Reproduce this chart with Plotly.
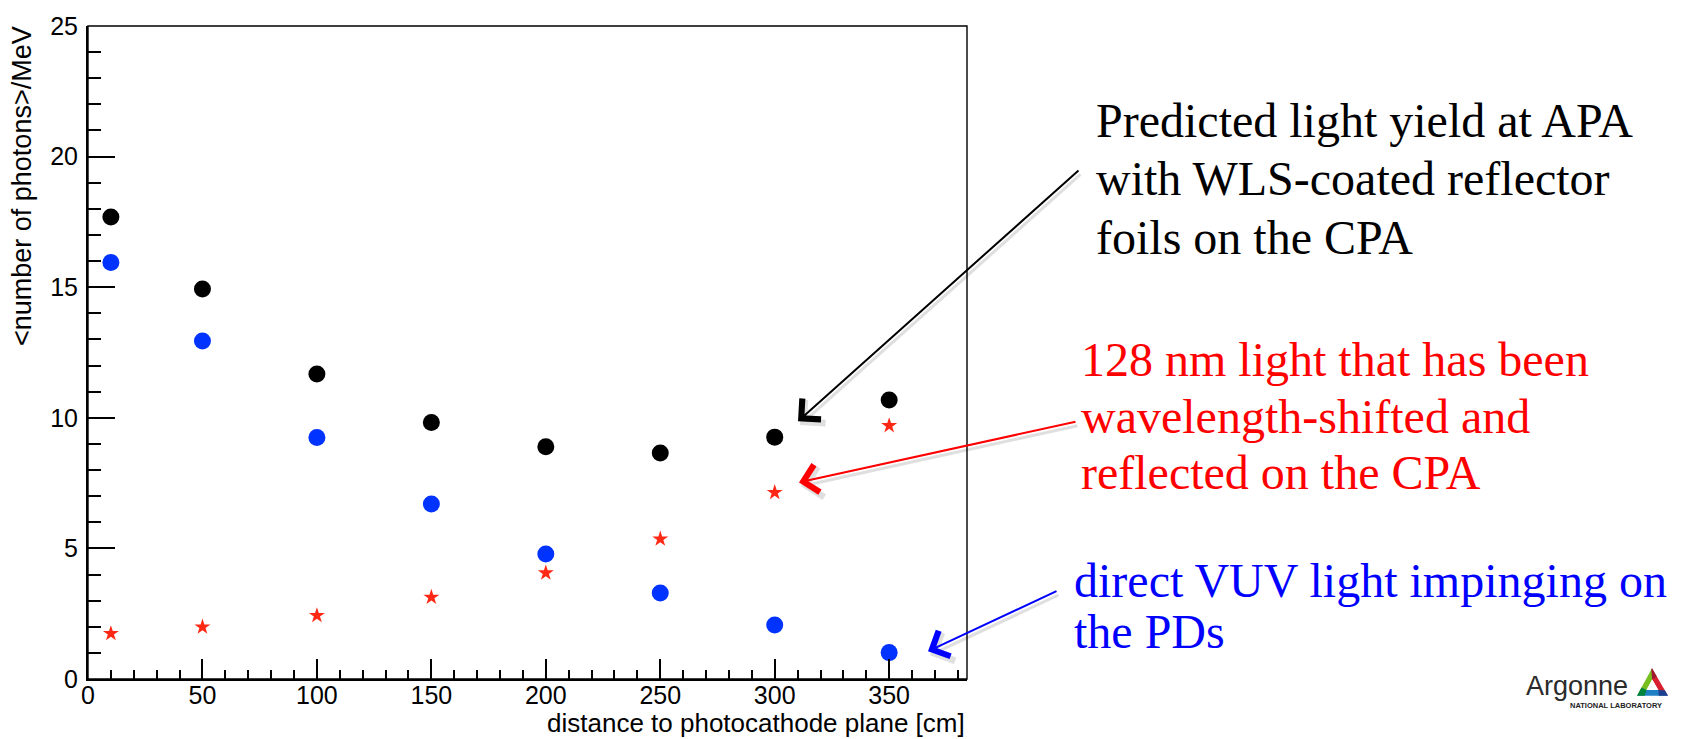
import plotly.graph_objects as go

# Light yield per MeV versus distance from the photocathode plane
distance_cm = [10, 50, 100, 150, 200, 250, 300, 350]
total_yield = [17.69, 14.93, 11.68, 9.82, 8.89, 8.65, 9.26, 10.68]
direct_vuv = [15.95, 12.94, 9.25, 6.70, 4.79, 3.29, 2.07, 1.01]
reflected_wls = [1.74, 1.99, 2.43, 3.13, 4.06, 5.36, 7.14, 9.70]

x_ticks = [0, 50, 100, 150, 200, 250, 300, 350]
y_ticks = [0, 5, 10, 15, 20, 25]

W, H = 1683, 739
L, R, T, B = 88, 967, 18, 679  # plot frame in pixels


def px(x):
    return (x - L) / (R - L)


def py(y):
    return (B - y) / (B - T)


SANS = "Liberation Sans, Arial, Helvetica, sans-serif"
SERIF = "Liberation Serif, Times New Roman, serif"
BLUE = "#0033ff"
RED = "#ff2814"

fig = go.Figure()
fig.add_trace(go.Scatter(x=distance_cm, y=total_yield, mode="markers",
                         marker=dict(symbol="circle", size=17, color="black"),
                         showlegend=False))
fig.add_trace(go.Scatter(x=distance_cm, y=direct_vuv, mode="markers",
                         marker=dict(symbol="circle", size=17, color=BLUE),
                         showlegend=False))
fig.add_trace(go.Scatter(x=distance_cm, y=reflected_wls, mode="markers",
                         marker=dict(symbol="star", size=12, color=RED, line=dict(width=0)),
                         showlegend=False))

annotations = []

# explanatory text blocks (one annotation per line)
text_blocks = [
    ("black", 1095, [(130, "Predicted light yield at APA"),
                     (189, "with WLS-coated reflector"),
                     (248, "foils on the CPA")]),
    ("#ff0000", 1080, [(372, "128 nm light that has been"),
                       (429, "wavelength-shifted and"),
                       (486, "reflected on the CPA")]),
    ("#0000ff", 1073, [(595, "direct VUV light impinging on"),
                       (647, "the PDs")]),
]
FS = 48
for color, x0, lines in text_blocks:
    for base, txt in lines:
        annotations.append(dict(
            xref="paper", yref="paper", x=px(x0), y=py(base - 0.3375 * FS),
            xanchor="left", yanchor="middle", text=txt, showarrow=False,
            borderpad=0, font=dict(family=SERIF, size=FS, color=color)))

# arrows from the text blocks to the points (head, tail in pixels)
arrows = [
    ("black", (798, 418), (1080, 166)),
    ("#ff0000", (799, 480), (1077, 419)),
    ("#0000ff", (928, 651), (1058, 590)),
]
for color, head, tail in arrows:
    # soft drop shadow
    annotations.append(dict(
        xref="paper", yref="paper", x=px(head[0] + 2), y=py(head[1] + 4),
        axref="pixel", ayref="pixel", ax=tail[0] - head[0], ay=tail[1] - head[1],
        showarrow=True, arrowhead=4, arrowsize=2.0, arrowwidth=3,
        arrowcolor="rgba(0,0,0,0.12)", text=""))
    annotations.append(dict(
        xref="paper", yref="paper", x=px(head[0]), y=py(head[1]),
        axref="pixel", ayref="pixel", ax=tail[0] - head[0], ay=tail[1] - head[1],
        showarrow=True, arrowhead=4, arrowsize=2.7, arrowwidth=2,
        arrowcolor=color, text=""))

# axis titles
annotations.append(dict(
    xref="paper", yref="paper", x=px(966), y=py(723.5), xanchor="right",
    yanchor="middle", text="distance to photocathode plane [cm]", showarrow=False,
    borderpad=0, font=dict(family=SANS, size=26, color="black")))
annotations.append(dict(
    xref="paper", yref="paper", x=px(22), y=py(17), xanchor="center",
    yanchor="top", textangle=-90, text="&lt;number of photons&gt;/MeV",
    showarrow=False, borderpad=0, font=dict(family=SANS, size=27, color="black")))

# laboratory logo
annotations.append(dict(
    xref="paper", yref="paper", x=px(1525), y=py(695 - 0.3465 * 27),
    xanchor="left", yanchor="middle", text="Argonne", showarrow=False,
    borderpad=0, font=dict(family=SANS, size=27, color="#2b2b2b")))
annotations.append(dict(
    xref="paper", yref="paper", x=px(1569), y=py(708 - 0.3465 * 7.5),
    xanchor="left", yanchor="middle", text="<b>NATIONAL LABORATORY</b>",
    showarrow=False, borderpad=0, font=dict(family=SANS, size=7.5, color="#222222")))

shapes = []


def poly(points, color):
    d = "M " + " L ".join(f"{px(a):.5f},{py(b):.5f}" for a, b in points) + " Z"
    return dict(type="path", xref="paper", yref="paper", path=d,
                fillcolor=color, line=dict(width=0), layer="above")


top, bl, br = (1652, 668), (1637, 696), (1668, 696)
cx, cy = (top[0] + bl[0] + br[0]) / 3, (top[1] + bl[1] + br[1]) / 3


def inner(p, k=0.38):
    return (cx + k * (p[0] - cx), cy + k * (p[1] - cy))


def lerp(p, q, t):
    return (p[0] + t * (q[0] - p[0]), p[1] + t * (q[1] - p[1]))


it, ibl, ibr = inner(top), inner(bl), inner(br)
shapes.append(poly([top, bl, ibl, it], "#78be20"))
shapes.append(poly([top, br, ibr, it], "#d6202f"))
shapes.append(poly([bl, br, ibr, ibl], "#1f7fc4"))
shapes.append(poly([top, lerp(top, br, 0.3), it, lerp(top, bl, 0.05)], "#9b1b30"))
shapes.append(poly([bl, lerp(bl, top, 0.3), ibl, lerp(bl, br, 0.25)], "#00843d"))
shapes.append(poly([br, lerp(br, bl, 0.3), ibr, lerp(br, top, 0.2)], "#1d3f8f"))
shapes.append(poly([it, ibl, ibr], "white"))

# plot frame
shapes.append(dict(type="rect", xref="paper", yref="paper", x0=0, x1=1, y0=0, y1=1,
                   line=dict(color="black", width=1.4), layer="above"))

fig.update_layout(
    width=W, height=H, autosize=False,
    margin=dict(l=L, r=W - R, t=T, b=H - B, pad=0),
    paper_bgcolor="white", plot_bgcolor="white",
    annotations=annotations, shapes=shapes,
    xaxis=dict(range=[0, 384], tickvals=x_ticks, ticks="inside", ticklen=20,
               tickwidth=1.5, tickcolor="black", showgrid=False, zeroline=False,
               showline=True, linecolor="black", linewidth=2,
               tickfont=dict(family=SANS, size=25, color="black"),
               ticklabelstandoff=-7,
               minor=dict(dtick=10, ticks="inside", ticklen=9, tickwidth=1.5,
                          tickcolor="black", showgrid=False)),
    yaxis=dict(range=[0, 25], tickvals=y_ticks, ticks="inside", ticklen=27,
               tickwidth=1.5, tickcolor="black", showgrid=False, zeroline=False,
               showline=True, linecolor="black", linewidth=2,
               tickfont=dict(family=SANS, size=25, color="black"),
               ticklabelstandoff=3,
               minor=dict(dtick=1, ticks="inside", ticklen=13, tickwidth=1.5,
                          tickcolor="black", showgrid=False)),
)

fig.write_html("out.html")
